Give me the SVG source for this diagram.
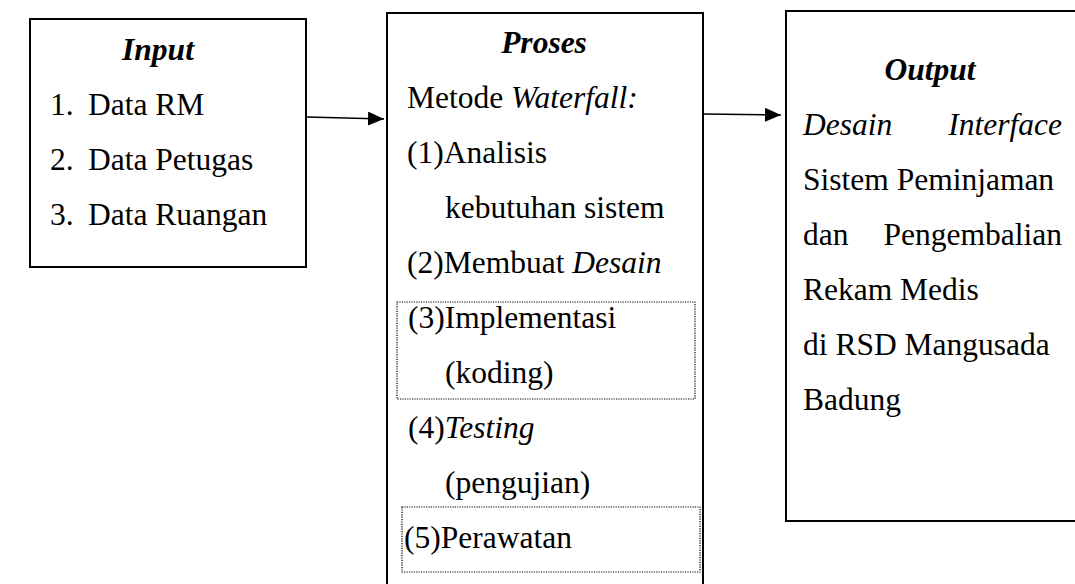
<svg xmlns="http://www.w3.org/2000/svg" width="1075" height="584" viewBox="0 0 1075 584">
<style>
.box{fill:#fff;stroke:#000;stroke-width:2}
.dot{fill:none;stroke:#000;stroke-width:1.2;stroke-dasharray:1.2 1.2}
text{font-family:"Liberation Serif","Times New Roman",serif;font-size:31.5px;fill:#000}
.h{font-weight:bold;font-style:italic}
.i{font-style:italic}
.c{text-anchor:middle}
.e{text-anchor:end}
.conn{stroke:#000;stroke-width:1.4;fill:none}
</style>
<defs>
<marker id="ah" markerWidth="16" markerHeight="14" refX="16" refY="7" orient="auto" markerUnits="userSpaceOnUse">
<path d="M0,0 L16,7 L0,14 Z" fill="#000"/>
</marker>
</defs>
<rect width="1075" height="584" fill="#fff"/>
<g id="input">
<rect class="box" x="30" y="19" width="276" height="248"/>
<text class="h c" x="158" y="60">Input</text>
<text x="50" y="115">1.</text><text x="88" y="115">Data RM</text>
<text x="50" y="170">2.</text><text x="88" y="170">Data Petugas</text>
<text x="50" y="225">3.</text><text x="88" y="225">Data Ruangan</text>
</g>
<g id="proses">
<rect class="box" x="387" y="13" width="316" height="580"/>
<rect class="dot" x="397" y="302" width="298" height="97"/>
<rect class="dot" x="402" y="507" width="298" height="65"/>
<text class="h c" x="544" y="53">Proses</text>
<text x="407" y="108">Metode <tspan class="i">Waterfall:</tspan></text>
<text x="407" y="163">(1)Analisis</text>
<text x="445" y="218">kebutuhan sistem</text>
<text x="407" y="273">(2)Membuat <tspan class="i">Desain</tspan></text>
<text x="408" y="328">(3)Implementasi</text>
<text x="445" y="383">(koding)</text>
<text x="408" y="438">(4)<tspan class="i">Testing</tspan></text>
<text x="445" y="493">(pengujian)</text>
<text x="404" y="548">(5)Perawatan</text>
</g>
<g id="output">
<rect class="box" x="786" y="11" width="300" height="510"/>
<text class="h c" x="930" y="80">Output</text>
<text class="i" x="803" y="135">Desain</text>
<text class="i e" x="1062" y="135">Interface</text>
<text x="803" y="190">Sistem Peminjaman</text>
<text x="803" y="245">dan</text>
<text class="e" x="1062" y="245">Pengembalian</text>
<text x="803" y="300">Rekam Medis</text>
<text x="803" y="355">di RSD Mangusada</text>
<text x="803" y="410">Badung</text>
</g>
<g id="connectors">
<line class="conn" x1="307" y1="117" x2="384" y2="119" marker-end="url(#ah)"/>
<line class="conn" x1="704" y1="114" x2="781" y2="115" marker-end="url(#ah)"/>
</g>
</svg>
